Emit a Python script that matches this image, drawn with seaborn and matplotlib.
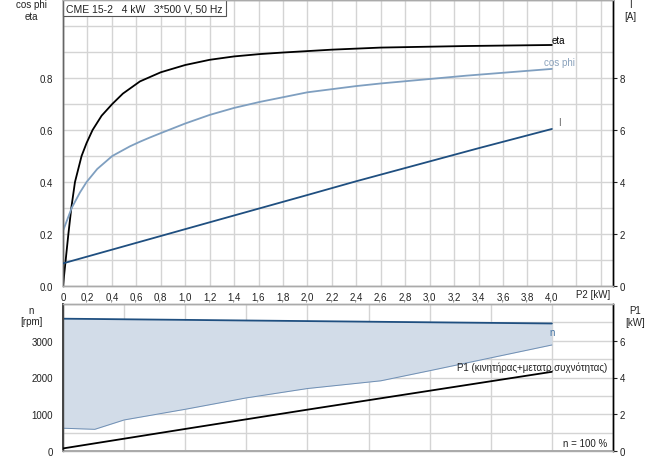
import numpy as np
import pandas as pd
import matplotlib as mpl
mpl.use('Agg')
import matplotlib.pyplot as plt
import matplotlib.transforms as mtransforms
import seaborn as sns

# DATA
eta_p2 = [0, 0.022, 0.044, 0.068, 0.098, 0.152, 0.193, 0.242, 0.316, 0.403, 0.49, 0.63,
          0.8, 1.0, 1.2, 1.4, 1.61, 1.8, 2.2, 2.6, 3.3, 4.0]
eta_val = [0, 0.1, 0.2, 0.3, 0.4, 0.5, 0.55, 0.6, 0.655, 0.7, 0.74, 0.787,
           0.822, 0.85, 0.87, 0.883, 0.892, 0.898, 0.909, 0.917, 0.923, 0.927]

cos_p2 = [0, 0.071, 0.139, 0.193, 0.28, 0.403, 0.547, 0.63, 0.71, 0.8, 1.0, 1.2, 1.4,
          1.61, 2.0, 2.4, 2.6, 3.3, 4.0]
cos_val = [0.212, 0.3, 0.36, 0.4, 0.45, 0.5, 0.537, 0.555, 0.571, 0.588, 0.625, 0.658, 0.685,
           0.708, 0.745, 0.769, 0.779, 0.809, 0.835]

i_p2 = [0, 1.2, 2.0, 2.4, 3.4, 4.0]
i_amp = [0.87, 2.45, 3.5, 4.03, 5.3, 6.04]

n_p2 = [0, 0.26, 0.5, 1.0, 1.5, 2.0, 2.6, 3.0, 4.0]
n_max = [3600, 3592, 3584, 3568, 3551, 3535, 3515, 3502, 3470]
n_min = [620, 590, 845, 1135, 1445, 1700, 1910, 2185, 2885]

p1_p2 = [0, 1.0, 2.0, 3.0, 4.0]
p1_kw = [0.14, 1.2, 2.25, 3.28, 4.31]

x_ticks = [round(0.2 * k, 1) for k in range(23)]
x_labels = ['0' if v == 0 else (f'{v:.1f}'.replace('.', ',') if v <= 4.0 else '') for v in x_ticks]

# STYLE
sns.set_theme(style='white')
plt.rcParams['font.family'] = ['Liberation Sans', 'DejaVu Sans']
plt.rcParams['font.size'] = 7
plt.rcParams['lines.solid_joinstyle'] = 'round'
TXT = '#222222'
GRID = '#d4d4d4'
C_ETA = 'black'
C_COS = '#7f9fc0'
C_I = '#1f4f80'
C_FILL = '#d2dce8'

fig = plt.figure(figsize=(6.56, 4.6), dpi=100)
ax1 = fig.add_axes([63 / 656, 1 - 287 / 460, 550 / 656, 286 / 460])
ax2 = fig.add_axes([63 / 656, 1 - 452 / 460, 550 / 656, 147 / 460])

# TOP PANEL: eta, cos phi, I
top = pd.concat([
    pd.DataFrame({'P2': eta_p2, 'val': eta_val, 'curve': 'eta'}),
    pd.DataFrame({'P2': cos_p2, 'val': cos_val, 'curve': 'cos phi'}),
])
sns.lineplot(data=top, x='P2', y='val', hue='curve', palette={'eta': C_ETA, 'cos phi': C_COS},
             linewidth=1.3, legend=False, ax=ax1, zorder=3)

ax1.set_xlim(0, 4.5)
ax1.set_ylim(0, 1.1)
ax1.set_xticks(x_ticks)
ax1.set_xticklabels(x_labels)
y_ticks = [round(0.1 * k, 1) for k in range(12)]
ax1.set_yticks(y_ticks)
ax1.set_yticklabels([f'{v:.1f}' if (k % 2 == 0 and v <= 0.8) else '' for k, v in enumerate(y_ticks)])
ax1.grid(True, color=GRID, linewidth=1.0, zorder=0)
ax1.tick_params(axis='both', length=0, labelsize=7, colors=TXT)
ax1.tick_params(axis='y', pad=7)
ax1.tick_params(axis='x', pad=4)
ax1.set_xlabel('')
ax1.set_ylabel('')

ax1b = ax1.twinx()
sns.lineplot(x=i_p2, y=i_amp, color=C_I, linewidth=1.3, ax=ax1b, zorder=3)
ax1b.set_ylim(0, 11)
ax1b.set_yticks([0, 2, 4, 6, 8])
ax1b.tick_params(axis='y', length=3, width=0.8, pad=2, labelsize=7, colors=TXT)
ax1b.grid(False)

for a in (ax1, ax1b):
    a.spines['left'].set_color('#666666')
    a.spines['bottom'].set_color('#aaaaaa')
    a.spines['top'].set_color('#aaaaaa')
    a.spines['right'].set_color('black')
    for s in a.spines.values():
        s.set_linewidth(1.0)

ax1.text(4.0, 0.946, 'eta', ha='left', va='center', fontsize=7, color='black')
ax1.text(4.06, 0.86, 'cos phi', ha='center', va='center', fontsize=7, color='#8aa2bc')
ax1.text(4.06, 0.63, 'I', ha='center', va='center', fontsize=7, color='#666666')
ax1.text(0.006, 0.971, 'CME 15-2   4 kW   3*500 V, 50 Hz', transform=ax1.transAxes,
         ha='left', va='center', fontsize=7.5, color=TXT, zorder=5,
         bbox=dict(boxstyle='square,pad=0.3', facecolor='white', edgecolor='#555555', linewidth=0.8))
trans_x = mtransforms.blended_transform_factory(ax1.transData, ax1.transAxes)
ax1.text(4.34, -0.011, 'P2 [kW]', transform=trans_x, ha='center', va='top', fontsize=7, color=TXT)

fig.text(31 / 656, 1 - 5 / 460, 'cos phi', ha='center', va='center', fontsize=7, color=TXT)
fig.text(31 / 656, 1 - 17 / 460, 'eta', ha='center', va='center', fontsize=7, color=TXT)
fig.text(630 / 656, 1 - 5 / 460, 'I', ha='center', va='center', fontsize=7, color=TXT)
fig.text(630 / 656, 1 - 17 / 460, '[A]', ha='center', va='center', fontsize=7, color=TXT)

# BOTTOM PANEL: speed range and P1
ax2.fill_between(n_p2, n_min, n_max, color=C_FILL, linewidth=0, zorder=2)
sns.lineplot(x=n_p2, y=n_max, color=C_I, linewidth=1.3, ax=ax2, zorder=3)
sns.lineplot(x=n_p2, y=n_min, color='#6f8fb4', linewidth=0.7, ax=ax2, zorder=3)
ax2.set_xlim(0, 4.5)
ax2.set_ylim(0, 4000)
ax2.set_xticks([0.5 * k for k in range(10)])
ax2.set_xticklabels([])
ax2.set_yticks([500 * k for k in range(9)])
ax2.set_yticklabels([str(v) if v % 1000 == 0 and v < 4000 else '' for v in range(0, 4500, 500)])
ax2.grid(True, color=GRID, linewidth=1.0, zorder=0)
ax2.tick_params(axis='both', length=0, labelsize=7, colors=TXT)
ax2.tick_params(axis='y', pad=7)

ax2b = ax2.twinx()
sns.lineplot(x=p1_p2, y=p1_kw, color='black', linewidth=1.3, ax=ax2b, zorder=3)
ax2b.set_ylim(0, 8)
ax2b.set_yticks([0, 2, 4, 6])
ax2b.tick_params(axis='y', length=3, width=0.8, pad=2, labelsize=7, colors=TXT)
ax2b.grid(False)

for a in (ax2, ax2b):
    a.spines['left'].set_color('#444444')
    a.spines['bottom'].set_color('#aaaaaa')
    a.spines['top'].set_color('#aaaaaa')
    a.spines['right'].set_color('black')
    for s in a.spines.values():
        s.set_linewidth(1.0)
ax2.spines['left'].set_linewidth(1.4)
ax2.spines['bottom'].set_linewidth(1.4)

ax2.text(4.0, 3240, 'n', ha='center', va='center', fontsize=7, color='#3f6f9f')
ax2.text(3.835, 2300, 'P1 (κινητήρας+μετατρ.συχνότητας)', ha='center', va='center', fontsize=7, color=TXT)
ax2.text(4.45, 210, 'n = 100 %', ha='right', va='center', fontsize=7, color=TXT)

fig.text(31 / 656, 1 - 311 / 460, 'n', ha='center', va='center', fontsize=7, color=TXT)
fig.text(31 / 656, 1 - 322 / 460, '[rpm]', ha='center', va='center', fontsize=7, color=TXT)
fig.text(635 / 656, 1 - 311 / 460, 'P1', ha='center', va='center', fontsize=7, color=TXT)
fig.text(635 / 656, 1 - 323 / 460, '[kW]', ha='center', va='center', fontsize=7, color=TXT)

fig.savefig('out.png', dpi=100, facecolor='white')
